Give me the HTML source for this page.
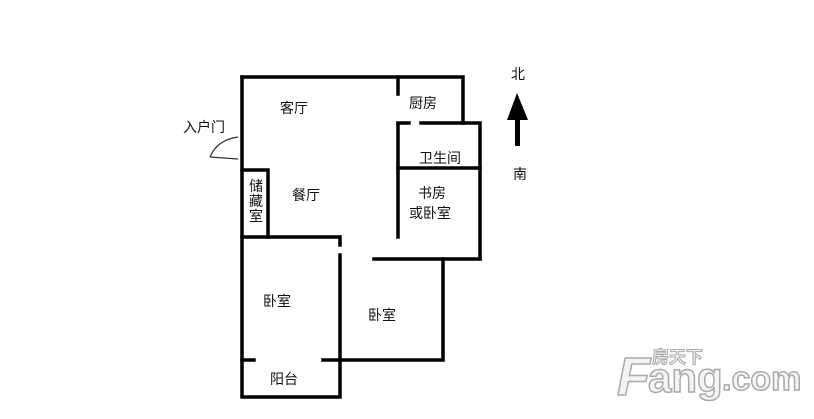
<!DOCTYPE html>
<html><head><meta charset="utf-8"><style>
html,body{margin:0;padding:0;background:#fff;}
svg{display:block}
text{font-family:"Liberation Sans","Noto Sans CJK SC",sans-serif;font-size:14px;fill:#111;}
</style></head><body>
<svg width="814" height="419" viewBox="0 0 814 419">
<g stroke="#000" stroke-width="3.5" fill="none" stroke-linecap="square">
<path d="M242 77 H463 V123"/>
<path d="M242 77 V397 H340 V255"/>
<path d="M340 237 V245"/>
<path d="M242 237 H339"/>
<path d="M242 170 H268 V237"/>
<path d="M398 77 V94"/>
<path d="M398 124 V237"/>
<path d="M398 123 H409"/>
<path d="M421 123 H480 V259"/>
<path d="M398 168 H480"/>
<path d="M374 259 H480"/>
<path d="M443 259 V360 H323"/>
<path d="M242 360 H254"/>
</g>
<g stroke="#333" stroke-width="1.3" fill="none">
<path d="M238 137 Q217 140 210 157"/>
<path d="M210 157 L238 159"/>
</g>
<polygon points="517,93 507,120 528,120" fill="#000"/>
<rect x="515" y="118" width="5" height="28" fill="#000"/>
<text x="518" y="79" text-anchor="middle">北</text>
<text x="520" y="179" text-anchor="middle">南</text>
<text x="204" y="132" text-anchor="middle">入户门</text>
<text x="294" y="113" text-anchor="middle">客厅</text>
<text x="423" y="108" text-anchor="middle">厨房</text>
<text x="440" y="163" text-anchor="middle">卫生间</text>
<text x="306" y="200" text-anchor="middle">餐厅</text>
<text x="432" y="198" text-anchor="middle">书房</text>
<text x="430" y="218" text-anchor="middle">或卧室</text>
<text x="256" y="191" text-anchor="middle">储</text>
<text x="256" y="206" text-anchor="middle">藏</text>
<text x="256" y="221" text-anchor="middle">室</text>
<text x="277" y="306" text-anchor="middle">卧室</text>
<text x="382" y="320" text-anchor="middle">卧室</text>
<text x="284" y="384" text-anchor="middle">阳台</text>
<g style="font-weight:bold;">
<text x="617" y="395" style="font-size:54px;font-style:italic;fill:#f4f4f4;stroke:#aaa;stroke-width:1.5;">F</text>
<text x="648" y="392" style="font-size:42px;fill:#f4f4f4;stroke:#aaa;stroke-width:1.5;">ang</text>
<text x="722" y="390" style="font-size:34px;fill:#f4f4f4;stroke:#aaa;stroke-width:1.5;">.com</text>
<text x="652" y="363" style="font-size:17px;fill:#f4f4f4;stroke:#aaa;stroke-width:1">房天下</text>
</g>
</svg>
</body></html>
